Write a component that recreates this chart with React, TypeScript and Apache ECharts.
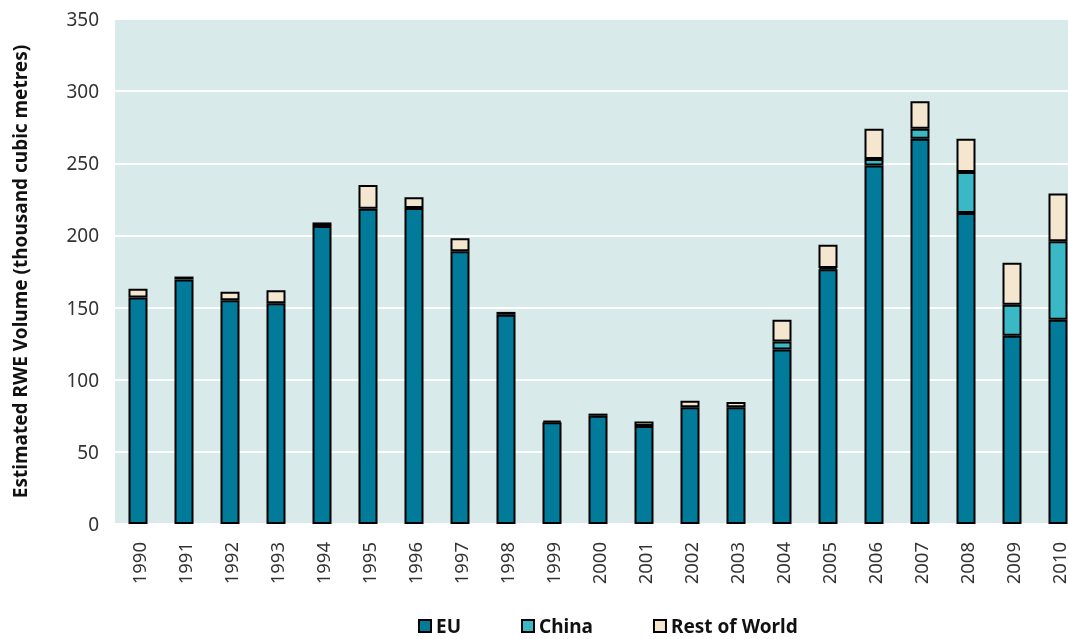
import React, { useEffect, useRef } from "react";
import * as echarts from "echarts";

const years = ["1990","1991","1992","1993","1994","1995","1996","1997","1998","1999","2000","2001","2002","2003","2004","2005","2006","2007","2008","2009","2010"];
const euValues = [157, 169.5, 155, 153, 206.5, 218.5, 219, 189, 145, 70.5, 75, 68, 81, 81, 121, 176.5, 248.5, 267, 215.5, 130.5, 141.5];
const chinaValues = [0, 0, 0, 0, 0, 0, 0, 0, 0, 0, 0, 0, 0, 0, 5.5, 1, 4.5, 7, 28.5, 21.5, 54.5];
const rowValues = [6, 2, 6, 9, 2.5, 16.5, 7.5, 9, 2, 1, 1.5, 3, 4.5, 3.5, 15, 16, 21, 19, 23, 29, 33];
const yTicks = [0, 50, 100, 150, 200, 250, 300, 350];

const FONT = "Noto Sans";

export default function App() {
  const ref = useRef<HTMLDivElement>(null);
  useEffect(() => {
    if (!ref.current) return;
    const chart = echarts.init(ref.current, null, { renderer: "svg" });
    const seriesDef = [
      { name: "EU", data: euValues, color: "#017b99" },
      { name: "China", data: chinaValues, color: "#3bb8c6" },
      { name: "Rest of World", data: rowValues, color: "#f5e6d0" },
    ];
    chart.setOption({
      animation: false,
      textStyle: { fontFamily: FONT },
      grid: {
        left: 115,
        top: 19,
        height: 505,
        width: 966,
        show: true,
        backgroundColor: "#d9eaea",
        borderWidth: 0,
        outerBoundsMode: "none",
        containLabel: false,
      },
      legend: {
        top: 616,
        left: 418,
        padding: 0,
        icon: "rect",
        itemWidth: 12,
        itemHeight: 12,
        itemGap: 60,
        textStyle: { fontFamily: FONT, fontSize: 19, lineHeight: 20, fontWeight: "bold", color: "#111" },
        data: seriesDef.map((s) => ({ name: s.name, itemStyle: { color: s.color, borderColor: "#000", borderWidth: 2 } })),
      },
      xAxis: {
        type: "category",
        data: years,
        axisLine: { show: false },
        axisTick: { show: false },
        axisLabel: { rotate: 90, fontSize: 18.5, lineHeight: 18, color: "#333", margin: 18, fontFamily: FONT },
      },
      yAxis: {
        type: "value",
        min: yTicks[0],
        max: yTicks[yTicks.length - 1],
        interval: 50,
        name: "Estimated RWE Volume (thousand cubic metres)",
        nameLocation: "middle",
        nameGap: 86,
        nameTextStyle: { fontSize: 19, fontWeight: "bold", color: "#111", fontFamily: FONT },
        axisLine: { show: false },
        axisTick: { show: false },
        axisLabel: { fontSize: 19, color: "#333", margin: 16, fontFamily: FONT },
        splitLine: { lineStyle: { color: "#ffffff", width: 2 } },
      },
      series: seriesDef.map((s) => ({
        name: s.name,
        type: "bar",
        stack: "total",
        data: s.data.map((v) => (v === 0 ? null : v)),
        barWidth: 19,
        itemStyle: { color: s.color, borderColor: "#000", borderWidth: 2 },
      })),
    });
    return () => chart.dispose();
  }, []);
  return <div ref={ref} style={{ position: "fixed", left: 0, top: 0, width: 1068, height: 639 }} />;
}
